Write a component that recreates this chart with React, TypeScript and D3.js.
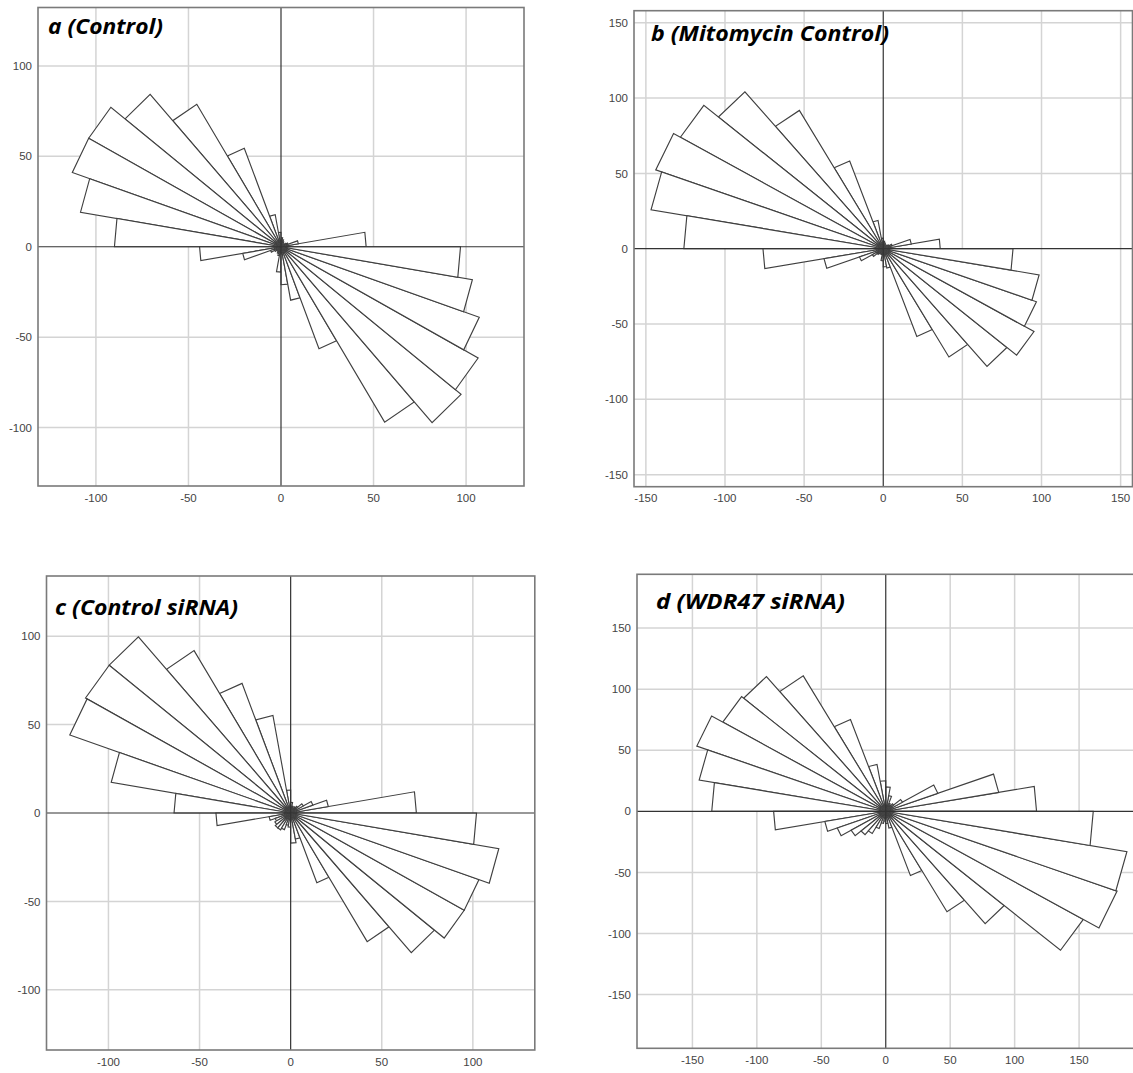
import React from 'react';
import * as d3 from 'd3';

// Sector start angles (degrees, counter-clockwise from +x), each sector spans 10°
const SECTOR_ANGLES = [0, 10, 20, 30, 40, 50, 60, 70, 80, 90, 100, 110, 120, 130, 140, 150, 160, 170,
  180, 190, 200, 210, 220, 230, 240, 250, 260, 270, 280, 290, 300, 310, 320, 330, 340, 350];
const SECTOR_WIDTH = 10;

const TITLES = ['a (Control)', 'b (Mitomycin Control)', 'c (Control siRNA)', 'd (WDR47 siRNA)'];

const VALUES_A = [46, 9.5, 4, 3, 2, 2, 3, 4, 5, 8, 18, 58, 91, 110, 120, 120, 110, 90,
  44, 21, 6, 4, 3, 3, 4, 5, 14, 21, 30, 60, 112, 127, 123, 114, 105, 97];
const VALUES_B = [36, 18, 6, 4, 3, 2, 3, 4, 5, 7, 19, 62, 106, 136, 148, 153, 149, 126,
  76, 38, 16, 8, 5, 4, 3, 4, 8, 12, 13, 62, 83, 102, 110, 103, 100, 82];
const VALUES_C = [69, 21, 13, 8, 5, 4, 3, 4, 6, 13, 56, 78, 106, 130, 130, 129, 100, 64,
  41, 12, 9, 10, 11, 11, 10, 7, 8, 17, 15, 42, 84, 103, 110, 110, 116, 102];
const VALUES_D = [117, 89, 43, 15, 8, 6, 7, 13, 20, 25, 39, 80, 128, 144, 146, 156, 147, 135,
  87, 48, 40, 31, 25, 21, 15, 10, 8, 10, 14, 56, 95, 120, 177, 191, 190, 161];

const TICKS_A = [-100, -50, 0, 50, 100];
const TICKS_B = [-150, -100, -50, 0, 50, 100, 150];
const TICKS_C = [-100, -50, 0, 50, 100];
const TICKS_D = [-150, -100, -50, 0, 50, 100, 150];

// Layout (pixels) and axis extents
const LAYOUT = [
  { x0: 38, x1: 524, y0: 7.5, y1: 486, xmax: 131.3, ymax: 132.3, tx: 48, ty: 34, tw: 115 },
  { x0: 634, x1: 1132.5, y0: 10.7, y1: 486.7, xmax: 157.5, ymax: 158, tx: 651, ty: 40.5, tw: 238 },
  { x0: 46.5, x1: 534.8, y0: 576, y1: 1050, xmax: 134, ymax: 134, tx: 55, ty: 615, tw: 183 },
  { x0: 637, x1: 1134.5, y0: 574.3, y1: 1048.3, xmax: 193, ymax: 194, tx: 656, ty: 609, tw: 189 },
];

const PANEL_VALUES = [VALUES_A, VALUES_B, VALUES_C, VALUES_D];
const PANEL_TICKS = [TICKS_A, TICKS_B, TICKS_C, TICKS_D];

const GRID_COLOR = '#d4d4d4';
const FRAME_COLOR = '#7a7a7a';
const AXIS_COLOR = '#333';
const SECTOR_STROKE = '#404040';
const LABEL_COLOR = '#444';

function Panel({ idx }: { idx: number }) {
  const L = LAYOUT[idx];
  const values = PANEL_VALUES[idx];
  const ticks = PANEL_TICKS[idx];
  const x = d3.scaleLinear().domain([-L.xmax, L.xmax]).range([L.x0, L.x1]);
  const y = d3.scaleLinear().domain([-L.ymax, L.ymax]).range([L.y1, L.y0]);
  const line = d3.line<[number, number]>().x(d => x(d[0])).y(d => y(d[1]));
  const rad = (deg: number) => (deg * Math.PI) / 180;
  const clipId = `clip-${idx}`;

  return (
    <g>
      <defs>
        <clipPath id={clipId}>
          <rect x={L.x0} y={L.y0} width={L.x1 - L.x0} height={L.y1 - L.y0} />
        </clipPath>
      </defs>
      <rect x={L.x0} y={L.y0} width={L.x1 - L.x0} height={L.y1 - L.y0} fill="#fff" />
      <g clipPath={`url(#${clipId})`}>
        {ticks.filter(t => t !== 0).map(t => (
          <line key={`gx${t}`} x1={x(t)} x2={x(t)} y1={L.y0} y2={L.y1} stroke={GRID_COLOR} strokeWidth={1.5} />
        ))}
        {ticks.filter(t => t !== 0).map(t => (
          <line key={`gy${t}`} y1={y(t)} y2={y(t)} x1={L.x0} x2={L.x1} stroke={GRID_COLOR} strokeWidth={1.5} />
        ))}
        {SECTOR_ANGLES.map((a, i) => {
          const r = values[i];
          const a1 = rad(a);
          const a2 = rad(a + SECTOR_WIDTH);
          const pts: [number, number][] = [
            [0, 0],
            [r * Math.cos(a1), r * Math.sin(a1)],
            [r * Math.cos(a2), r * Math.sin(a2)],
          ];
          return (
            <path key={`s${i}`} d={(line(pts) || '') + 'Z'} fill="#fff" stroke={SECTOR_STROKE}
              strokeWidth={1.15} strokeLinejoin="miter" />
          );
        })}
        <line x1={x(0)} x2={x(0)} y1={L.y0} y2={L.y1} stroke={AXIS_COLOR} strokeWidth={1.2} />
        <line y1={y(0)} y2={y(0)} x1={L.x0} x2={L.x1} stroke={AXIS_COLOR} strokeWidth={1.2} />
      </g>
      <rect x={L.x0} y={L.y0} width={L.x1 - L.x0} height={L.y1 - L.y0} fill="none"
        stroke={FRAME_COLOR} strokeWidth={1.6} />
      {ticks.map(t => (
        <text key={`ly${t}`} x={L.x0 - 6} y={y(t)} dy="0.36em" textAnchor="end"
          fontFamily="'Liberation Sans', Arial, sans-serif" fontSize={11.5} fill={LABEL_COLOR}>{t}</text>
      ))}
      {ticks.map(t => (
        <text key={`lx${t}`} x={x(t)} y={L.y1 + 15.5} textAnchor="middle"
          fontFamily="'Liberation Sans', Arial, sans-serif" fontSize={11.5} fill={LABEL_COLOR}>{t}</text>
      ))}
      <text x={L.tx} y={L.ty} fontFamily="'Open Sans', sans-serif" fontWeight="bold" fontStyle="italic"
        fontSize={21.5} fill="#000" textLength={L.tw} lengthAdjust="spacingAndGlyphs">{TITLES[idx]}</text>
    </g>
  );
}

export default function App() {
  return (
    <svg width={1133} height={1073} viewBox="0 0 1133 1073"
      style={{ position: 'absolute', left: 0, top: 0, background: '#fff' }}>
      <rect x={0} y={0} width={1133} height={1073} fill="#fff" />
      {LAYOUT.map((_, i) => <Panel key={i} idx={i} />)}
    </svg>
  );
}
